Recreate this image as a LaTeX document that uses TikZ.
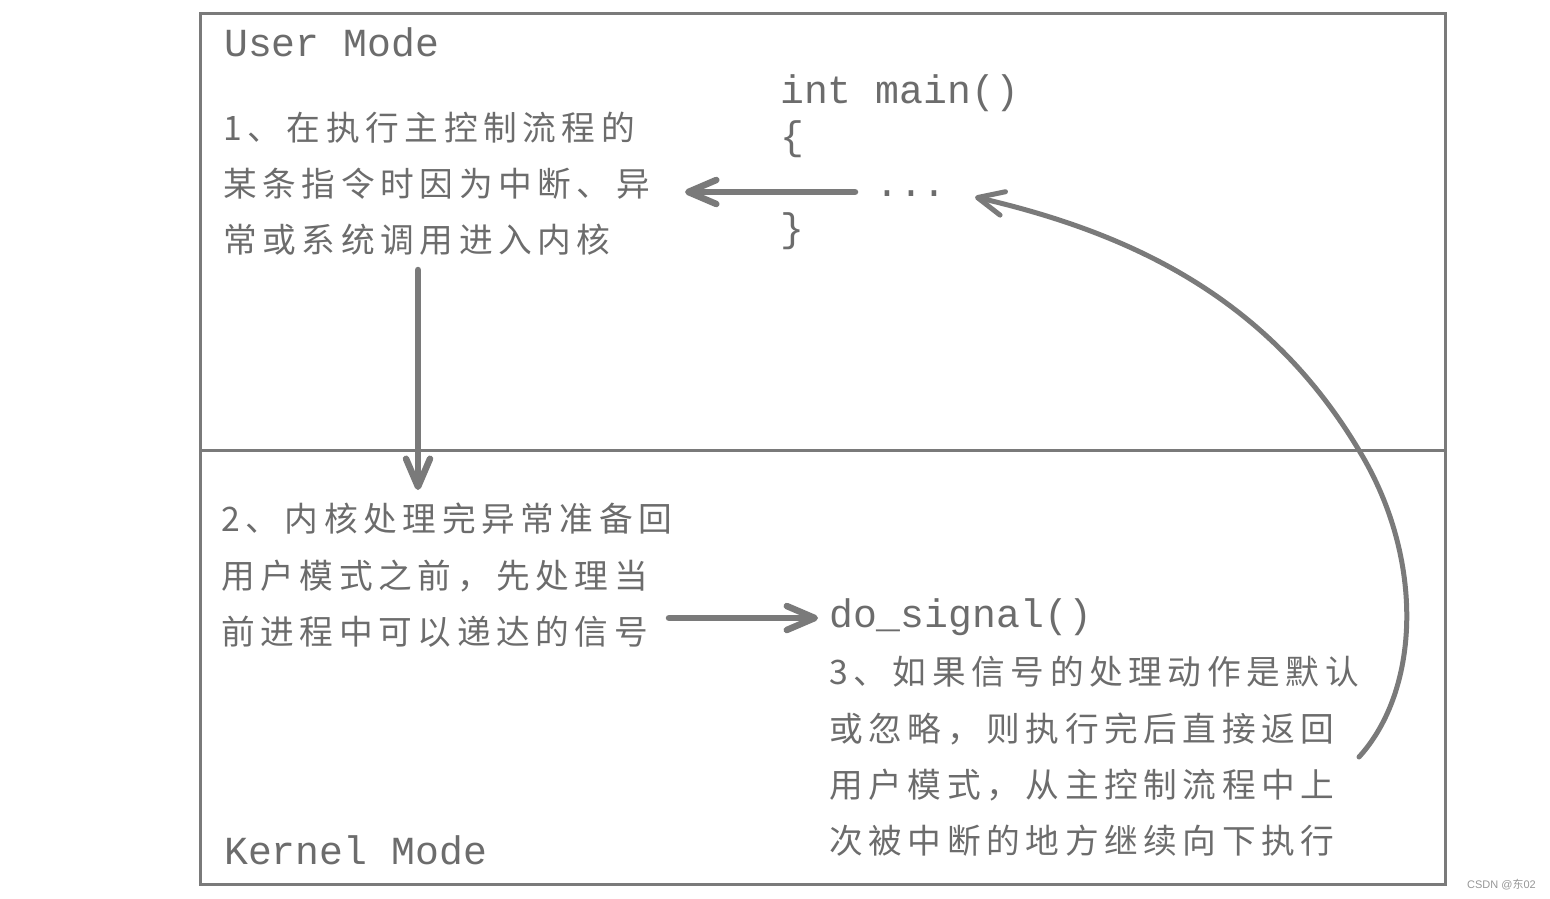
\documentclass[tikz,border=0pt]{standalone}
\usepackage{fontspec}
\setmonofont{Liberation Mono}
\newfontfamily\cjk{Noto Sans CJK SC}
\newfontfamily\wmfont{Liberation Sans}
\usetikzlibrary{arrows.meta}
\definecolor{linegray}{RGB}{122,122,122}
\definecolor{textgray}{RGB}{108,108,108}
\definecolor{wmgray}{RGB}{150,150,150}
\newlength\cjkgap \setlength\cjkgap{5.6pt}
\def\spaced#1{\spacedi#1\relax}
\def\spacedi#1{\ifx\relax#1\else#1\kern\cjkgap\expandafter\spacedi\fi}
\begin{document}
\begin{tikzpicture}[x=1pt,y=-1pt,
  cn/.style={anchor=base west, inner sep=0pt, text=textgray, font=\cjk\fontsize{33.7}{33.7}\selectfont},
  mono/.style={anchor=base west, inner sep=0pt, text=textgray, font=\ttfamily\fontsize{39.8}{39.8}\selectfont},
  frame/.style={draw=linegray, line width=3pt},
  bigarrow/.style={draw=linegray, line width=6.5pt, line cap=round, -{Straight Barb[length=28pt,width=24pt,round]}},
  curvearrow/.style={draw=linegray, line width=5pt, line cap=round, -{Straight Barb[length=26pt,width=24pt,round]}}]
\useasboundingbox (0,0) rectangle (1550,899);
% frame
\draw[frame] (200,14) rectangle (1445,884);
\draw[frame] (200,450) -- (1445,450);
% mode labels
\node[mono] (user) at (224,57) {User Mode};
\node[mono] (kernel) at (224,864) {Kernel Mode};
% code
\node[mono] (main) at (780,103) {int main()};
\node[mono] (lbrace) at (780,149) {\{};
\node[mono] (dots) at (875,196) {...};
\node[mono] (rbrace) at (780,241) {\}};
\node[mono] (dosig) at (829,627) {do\_signal()};
% step 1
\node[cn] (s1a) at (223,140) {\spaced{1、在执行主控制流程的}};
\node[cn] (s1b) at (223,196) {\spaced{某条指令时因为中断、异}};
\node[cn] (s1c) at (223,252) {\spaced{常或系统调用进入内核}};
% step 2
\node[cn] (s2a) at (221,531) {\spaced{2、内核处理完异常准备回}};
\node[cn] (s2b) at (221,588) {\spaced{用户模式之前，先处理当}};
\node[cn] (s2c) at (221,644) {\spaced{前进程中可以递达的信号}};
% step 3
\node[cn] (s3a) at (829,684) {\spaced{3、如果信号的处理动作是默认}};
\node[cn] (s3b) at (829,741) {\spaced{或忽略，则执行完后直接返回}};
\node[cn] (s3c) at (829,797) {\spaced{用户模式，从主控制流程中上}};
\node[cn] (s3d) at (829,853) {\spaced{次被中断的地方继续向下执行}};
% connector ends
\coordinate (a1s) at (855,192);
\coordinate (a1e) at (685,192);
\coordinate (a2s) at (418,270);
\coordinate (a2e) at (418,490);
\coordinate (a3s) at (669,618);
\coordinate (a3e) at (818,618);
\coordinate (cs) at (1359,757);
\coordinate (cm) at (1360,452);
\coordinate (ce) at (975,197);
% arrows
\draw[bigarrow] (a1s) -- (a1e);
\draw[bigarrow] (a2s) -- (a2e);
\draw[bigarrow] (a3s) -- (a3e);
\draw[curvearrow] (cs) .. controls (1420,690) and (1425,560) .. (cm)
  .. controls (1270,300) and (1135,234) .. (ce);
% watermark
\node[anchor=base east, inner sep=0pt, text=wmgray, font=\wmfont\fontsize{11}{11}\selectfont] (wm) at (1536,888) {CSDN @{\cjk 东}02};
\end{tikzpicture}
\end{document}
